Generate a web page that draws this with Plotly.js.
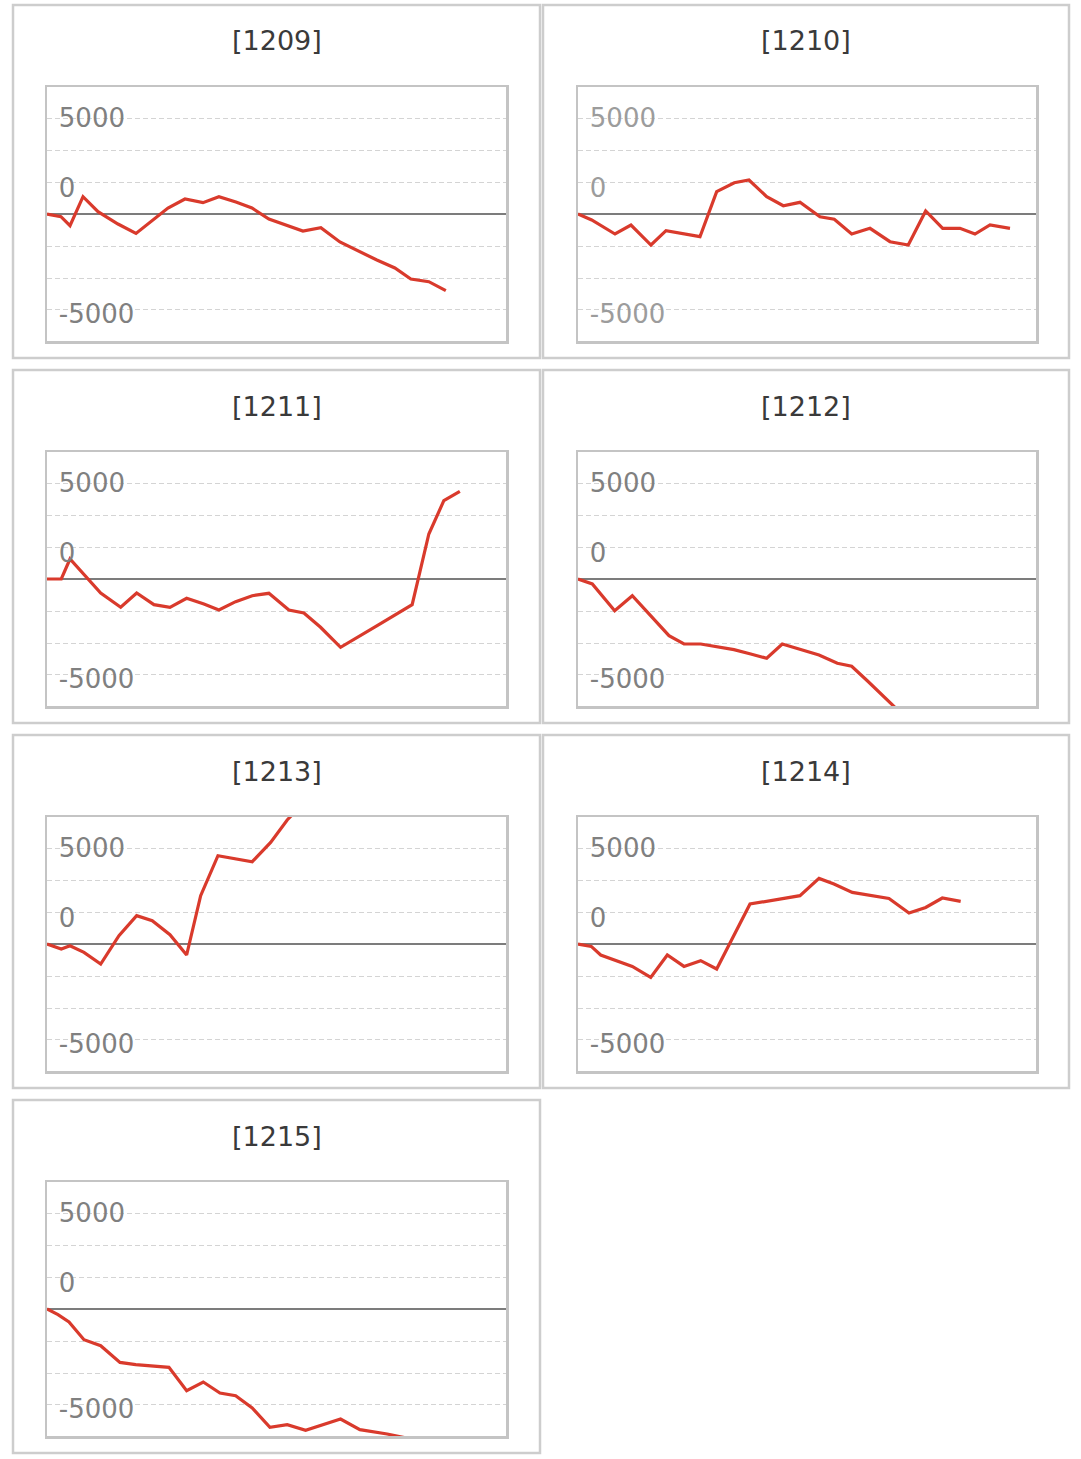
<!DOCTYPE html>
<html>
<head>
<meta charset="utf-8">
<script src="https://cdn.plot.ly/plotly-3.0.1.min.js"></script>
<style>
html, body { margin: 0; padding: 0; background: #fff; }
#chart { width: 1081px; height: 1459px; }
</style>
</head>
<body>
<div id="chart"></div>
<script>
// machine numbers shown above each small chart
var machines = ['[1209]', '[1210]', '[1211]', '[1212]', '[1213]', '[1214]', '[1215]'];
var yTickText = ['5000', '0', '-5000'];

// games played (x) and coin difference (y)
var games_1209 = [0, 274, 451, 706, 1000, 1392, 1745, 2058, 2372, 2705, 3058, 3371, 3704, 4018, 4351, 5018, 5370, 5743, 6096, 6468, 6821, 7134, 7487, 7820];
var diff_1209  = [0, -141, -609, 901, 120, -521, -1010, -365, 312, 781, 589, 901, 625, 312, -260, -885, -714, -1458, -1927, -2396, -2812, -3385, -3526, -3995];

var games_1210 = [0, 269, 727, 1041, 1434, 1729, 2397, 2725, 3071, 3360, 3708, 4034, 4362, 4755, 5036, 5378, 5738, 6131, 6490, 6832, 7166, 7506, 7801, 8096, 8489];
var diff_1210  = [0, -312, -1042, -573, -1615, -870, -1182, 1162, 1630, 1771, 901, 432, 609, -141, -276, -1042, -745, -1443, -1615, 156, -745, -745, -1042, -573, -745];

var games_1211 = [0, 280, 451, 725, 1053, 1445, 1758, 2097, 2411, 2738, 3077, 3371, 3699, 4024, 4351, 4743, 5037, 5364, 5756, 6474, 7160, 7487, 7781, 8095];
var diff_1211  = [0, 0, 1042, 260, -729, -1474, -729, -1338, -1474, -1005, -1302, -1615, -1182, -870, -745, -1615, -1771, -2515, -3557, -2432, -1338, 2344, 4078, 4568];

var games_1212 = [0, 281, 721, 1067, 1788, 2083, 2411, 2737, 3065, 3394, 3708, 4014, 4376, 4736, 5096, 5378, 5685, 6145, 6425];
var diff_1212  = [0, -260, -1651, -870, -2953, -3385, -3385, -3526, -3682, -3906, -4130, -3385, -3682, -3958, -4390, -4547, -5297, -6422, -7187];

var games_1213 = [0, 280, 451, 725, 1053, 1411, 1758, 2064, 2411, 2738, 3013, 3352, 4024, 4385, 4710, 4959];
var diff_1213  = [0, -260, -89, -437, -1042, 432, 1474, 1213, 484, -573, 2516, 4599, 4286, 5291, 6458, 7151];

var games_1214 = [0, 261, 446, 741, 1067, 1429, 1755, 2083, 2411, 2725, 3380, 4362, 4736, 5030, 5390, 6111, 6504, 6832, 7159, 7520];
var diff_1214  = [0, -125, -573, -870, -1167, -1739, -573, -1167, -870, -1302, 2083, 2516, 3416, 3125, 2687, 2375, 1614, 1906, 2396, 2219];

var games_1215 = [0, 216, 431, 725, 1053, 1431, 1739, 2391, 2738, 3064, 3391, 3699, 4024, 4371, 4710, 5071, 5756, 6135, 6670, 7017];
var diff_1215  = [0, -297, -677, -1599, -1911, -2781, -2901, -3042, -4255, -3802, -4375, -4515, -5156, -6166, -6026, -6323, -5729, -6286, -6510, -6703];

var allGames = [games_1209, games_1210, games_1211, games_1212, games_1213, games_1214, games_1215];
var allDiffs = [diff_1209, diff_1210, diff_1211, diff_1212, diff_1213, diff_1214, diff_1215];

function drawPanels() {
  var W = 1081, H = 1459;
  var rowStep = 365;
  var plotLeft = [47, 578], plotRight = [506, 1036];
  var boxLeft = [13, 543], boxRight = [540, 1069];

  function px(x) { return x / W; }
  function py(y) { return 1 - y / H; }

  var data = [];
  var layout = {
    width: W,
    height: H,
    margin: {l: 0, r: 0, t: 0, b: 0},
    paper_bgcolor: '#fff',
    plot_bgcolor: 'rgba(0,0,0,0)',
    showlegend: false,
    shapes: [],
    annotations: []
  };

  for (var i = 0; i < machines.length; i++) {
    var col = i % 2;
    var row = Math.floor(i / 2);
    var n = i === 0 ? '' : String(i + 1);
    var plotTop = 87 + rowStep * row;

    data.push({
      x: allGames[i],
      y: allDiffs[i],
      xaxis: 'x' + n,
      yaxis: 'y' + n,
      type: 'scatter',
      mode: 'lines',
      line: {color: '#d93a2c', width: 3.2},
      hoverinfo: 'skip'
    });

    layout['xaxis' + n] = {
      domain: [px(plotLeft[col]), px(plotRight[col])],
      anchor: 'y' + n,
      range: [0, 9000],
      showgrid: false,
      zeroline: false,
      showticklabels: false,
      ticks: '',
      showline: true,
      mirror: true,
      linecolor: '#c4c4c4',
      linewidth: 2.5,
      fixedrange: true
    };

    layout['yaxis' + n] = {
      domain: [py(plotTop + 254), py(plotTop)],
      anchor: 'x' + n,
      range: [-6615, 6615],
      tickmode: 'array',
      // labels sit a little off the grid lines, as in the picture
      tickvals: [5026, 1338, -5198],
      ticktext: yTickText,
      ticklabelposition: 'inside',
      ticklabelstandoff: 14,
      ticks: '',
      showgrid: false,
      minor: {
        tickmode: 'linear',
        tick0: 0,
        dtick: 5000 / 3,
        showgrid: true,
        gridcolor: '#d4d4d4',
        griddash: '5px,3px',
        gridwidth: 1,
        ticks: ''
      },
      zeroline: true,
      zerolinecolor: '#7c7c7c',
      zerolinewidth: 2.8,
      showline: true,
      mirror: true,
      linecolor: '#c4c4c4',
      linewidth: 2.5,
      tickfont: {family: 'DejaVu Sans', size: 26, color: i === 1 ? '#9c9c9c' : '#808080'},
      fixedrange: true
    };

    layout.shapes.push({
      type: 'rect',
      xref: 'paper', yref: 'paper',
      x0: px(boxLeft[col]), x1: px(boxRight[col]),
      y0: py(5 + rowStep * row), y1: py(358 + rowStep * row),
      line: {color: '#cdcdcd', width: 2.5},
      layer: 'below'
    });

    layout.annotations.push({
      text: machines[i],
      xref: 'paper', yref: 'paper',
      x: px((boxLeft[col] + boxRight[col]) / 2),
      y: py(41 + rowStep * row),
      xanchor: 'center', yanchor: 'middle',
      showarrow: false,
      font: {family: 'DejaVu Sans', size: 27, color: '#3a3a3a'}
    });
  }

  Plotly.newPlot('chart', data, layout, {staticPlot: true, displayModeBar: false});
}

drawPanels();
</script>
</body>
</html>
